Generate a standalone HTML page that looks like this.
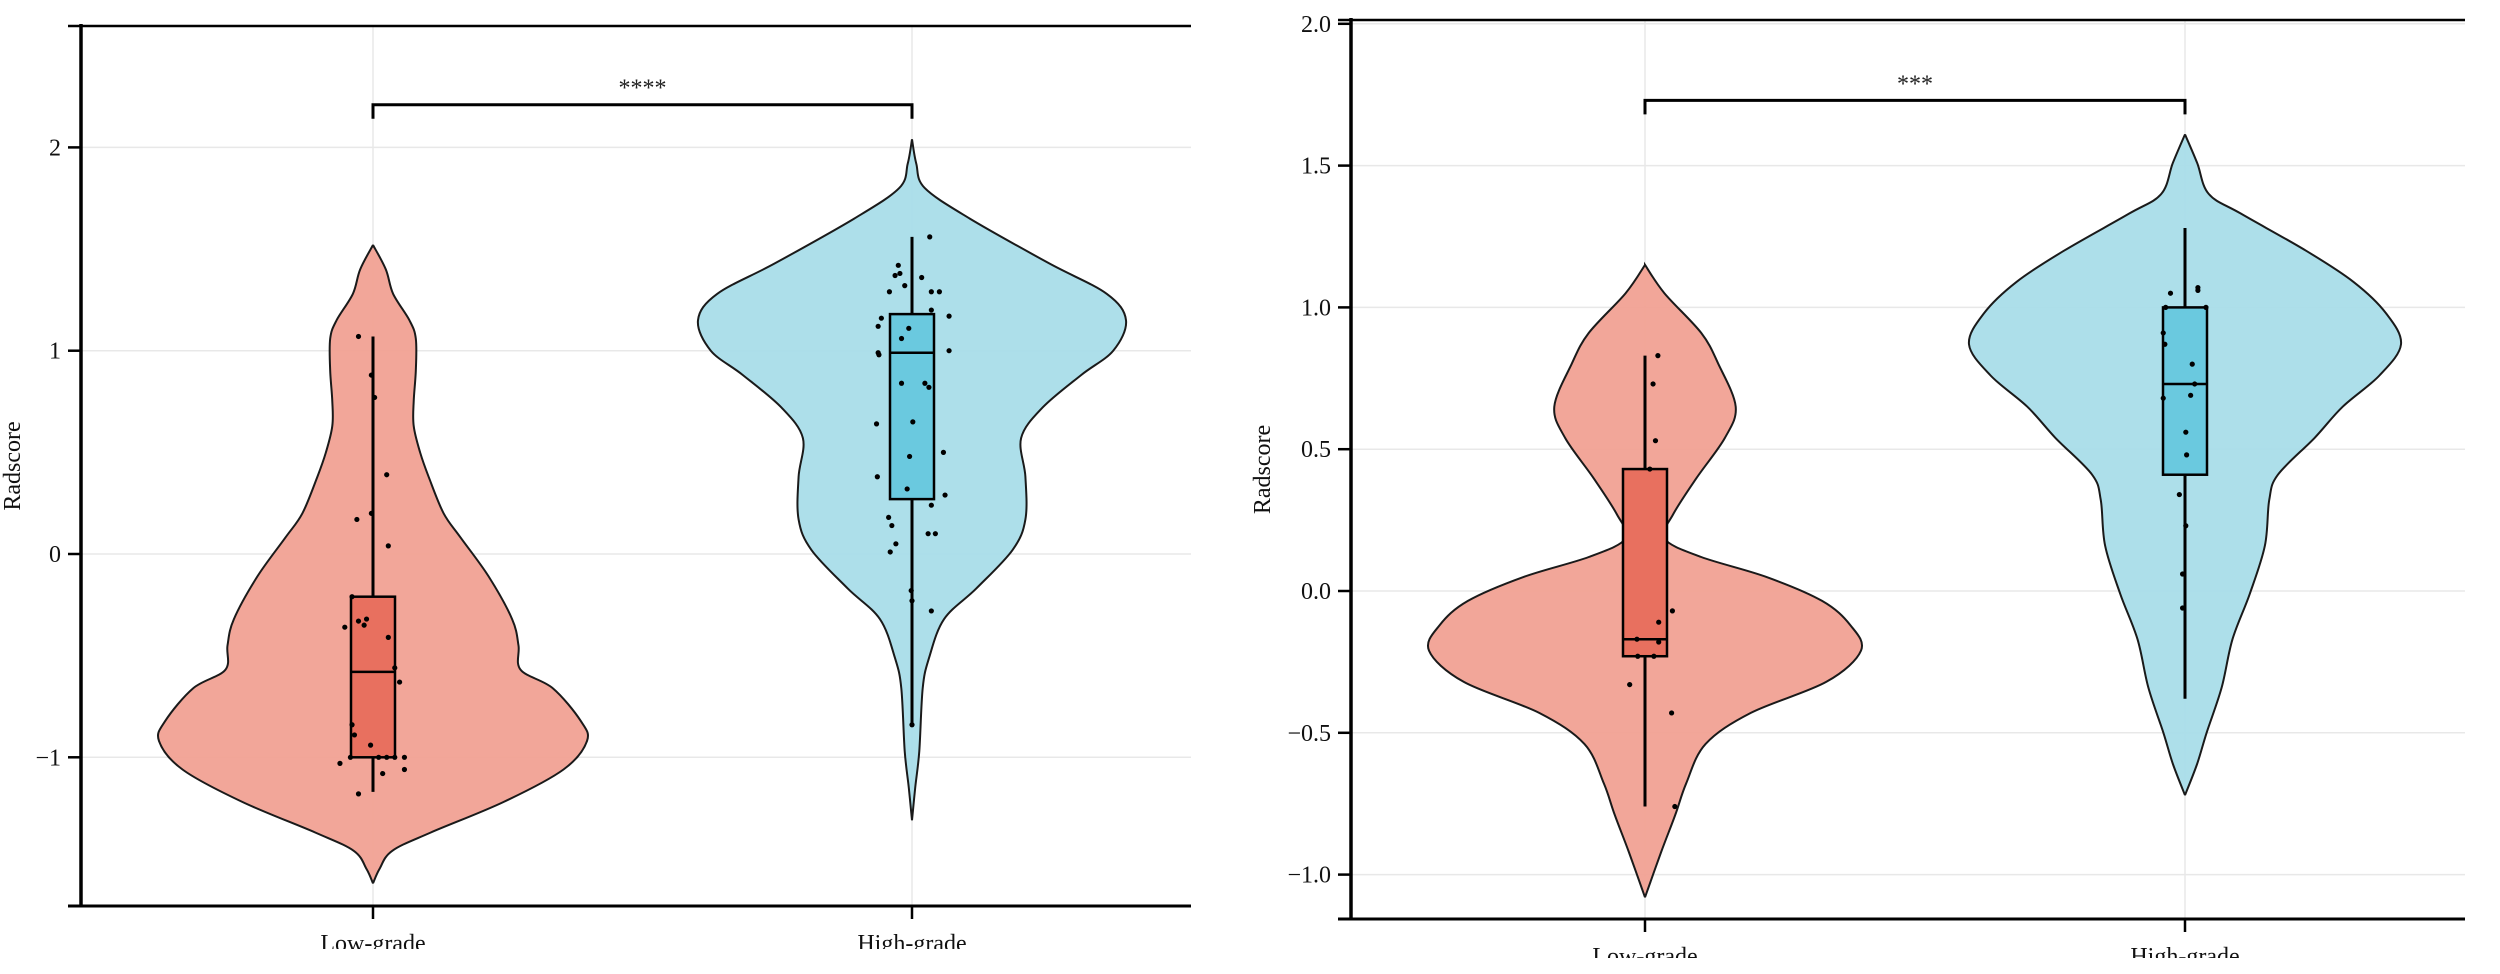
<!DOCTYPE html>
<html><head><meta charset="utf-8"><style>
html,body{margin:0;padding:0;background:#fff;}
svg{display:block;font-family:"Liberation Serif",serif;}
</style></head><body>
<svg id="chart" width="2500" height="974" viewBox="0 0 2500 974" xmlns="http://www.w3.org/2000/svg"></svg>
<script>
// ---------- Panel A data ----------
const catsA = ["Low-grade","High-grade"];
const ticksA = [2,1,0,-1];
const tickLabelsA = ["2","1","0","\u22121"];
const lowDensVA = [1.52,1.40,1.28,1.15,1.06,0.9,0.75,0.63,0.5,0.38,0.2,0.08,-0.11,-0.32,-0.45,-0.57,-0.66,-0.82,-0.92,-1.06,-1.22,-1.37,-1.46,-1.55,-1.62];
const lowDensDA = [0,0.06,0.094,0.17,0.2,0.2,0.19,0.19,0.22,0.26,0.33,0.41,0.54,0.65,0.68,0.69,0.84,0.97,1.0,0.89,0.61,0.27,0.09,0.03,0];
const highDensVA = [2.04,1.92,1.80,1.65,1.43,1.28,1.15,1.0,0.88,0.72,0.57,0.38,0.17,0.02,-0.17,-0.32,-0.51,-0.66,-0.97,-1.15,-1.31];
const highDensDA = [0,0.02,0.06,0.27,0.64,0.91,1.0,0.94,0.79,0.61,0.51,0.53,0.53,0.47,0.30,0.15,0.08,0.05,0.034,0.015,0];
const lowBoxA = [-1.17,-1.0,-0.58,-0.21,1.07];   // min, q1, median, q3, max
const highBoxA = [-0.84,0.27,0.99,1.18,1.56];
const lowPtsA = [1.07,0.88,0.77,0.39,0.2,0.17,0.04,-0.21,-0.36,-0.33,-0.32,-0.35,-0.41,-0.56,-0.63,-0.84,-0.89,-0.94,-1.0,-1.0,-1.0,-1.0,-1.0,-1.03,-1.06,-1.08,-1.18];
const lowJitA = [-18,-2,2,17,-2,-20,19,-26,-35,-18,-8,-11,19,27,33,-26,-23,-3,-28,7,17,27,39,-41,39,12,-18];
const highPtsA = [1.56,1.42,1.37,1.38,1.36,1.32,1.29,1.29,1.29,1.2,1.17,1.16,1.12,1.11,1.06,0.99,0.98,1.0,0.84,0.84,0.82,0.64,0.65,0.5,0.48,0.38,0.32,0.29,0.24,0.18,0.14,0.1,0.1,0.05,0.01,-0.18,-0.23,-0.28,-0.84];
const highJitA = [22,-17,-21,-15,12,-9,-28,24,34,24,46,-38,-42,-4,-13,-42,-41,46,-13,16,21,-44,1,39,-3,-43,-6,41,24,-29,-25,20,29,-20,-27,-1,0,24,0];
const sigA = [2.21, "****"];

// ---------- Panel B data ----------
const catsB = ["Low-grade","High-grade"];
const ticksB = [2.0,1.5,1.0,0.5,0.0,-0.5,-1.0];
const tickLabelsB = ["2.0","1.5","1.0","0.5","0.0","\u22120.5","\u22121.0"];
const lowDensVB = [1.15,1.05,0.91,0.80,0.65,0.54,0.4,0.27,0.185,0.12,0.05,-0.035,-0.12,-0.21,-0.32,-0.43,-0.54,-0.68,-0.79,-0.92,-1.08];
const lowDensDB = [0,0.09,0.26,0.34,0.42,0.37,0.24,0.13,0.09,0.26,0.56,0.82,0.95,1.0,0.84,0.49,0.28,0.19,0.14,0.075,0];
const highDensVB = [1.61,1.51,1.40,1.33,1.20,1.09,0.98,0.87,0.76,0.65,0.54,0.41,0.32,0.16,-0.01,-0.17,-0.34,-0.50,-0.61,-0.72];
const highDensDB = [0,0.056,0.11,0.26,0.56,0.78,0.93,1.0,0.9,0.73,0.6,0.43,0.39,0.37,0.3,0.22,0.17,0.1,0.056,0];
const lowBoxB = [-0.76,-0.23,-0.17,0.43,0.83];
const highBoxB = [-0.38,0.41,0.73,1.0,1.28];
const lowPtsB = [0.83,0.73,0.53,0.43,-0.07,-0.11,-0.17,-0.18,-0.23,-0.23,-0.33,-0.43,-0.76];
const lowJitB = [16,10,13,6,34,17,-10,17,-9,11,-19,33,37];
const highPtsB = [1.07,1.05,1.06,1.0,1.0,0.91,0.87,0.8,0.73,0.69,0.68,0.56,0.48,0.34,0.23,0.06,-0.06];
const highJitB = [16,-18,16,-24,26,-27,-25,9,12,7,-27,1,2,-7,1,-3,-3];
const sigB = [1.73, "***"];

const NS = "http://www.w3.org/2000/svg";
const svg = document.getElementById("chart");
function mk(tag, attrs, parent){
  const e = document.createElementNS(NS, tag);
  for (const k in attrs) e.setAttribute(k, attrs[k]);
  (parent||svg).appendChild(e);
  return e;
}
function smoothPath(pts){
  let d = "M"+pts[0][0]+","+pts[0][1];
  for (let i=0;i<pts.length-1;i++){
    const p0=pts[Math.max(0,i-1)], p1=pts[i], p2=pts[i+1], p3=pts[Math.min(pts.length-1,i+2)];
    const c1=[p1[0]+(p2[0]-p0[0])/6, p1[1]+(p2[1]-p0[1])/6];
    const c2=[p2[0]-(p3[0]-p1[0])/6, p2[1]-(p3[1]-p1[1])/6];
    d += " C"+c1[0].toFixed(1)+","+c1[1].toFixed(1)+" "+c2[0].toFixed(1)+","+c2[1].toFixed(1)+" "+p2[0].toFixed(1)+","+p2[1].toFixed(1);
  }
  return d;
}

function panel(o){
  const g = mk("g",{});
  
  
  const y = v => o.y0 - (v - o.vAtY0) * o.ppu;
  const x = i => o.cx[i];
  o.ticks.forEach(t=>{
    const l = mk("line",{x1:o.axX,x2:o.xEnd,y1:y(t),y2:y(t),stroke:"#e8e8e8","stroke-width":1.5},g);
    
    
  });
  o.cats.forEach((c,i)=>{
    const l = mk("line",{x1:x(i),x2:x(i),y1:o.top,y2:o.bottom,stroke:"#e8e8e8","stroke-width":1.5},g);
    
    
  });
  const groups = [
    {dv:o.lowDV, dd:o.lowDD, box:o.lowBox, pts:o.lowPts, jit:o.lowJit, fill:"#f1a194", boxFill:"#e8705f", nm:"low-grade"},
    {dv:o.highDV, dd:o.highDD, box:o.highBox, pts:o.highPts, jit:o.highJit, fill:"#a9dde9", boxFill:"#6ac9df", nm:"high-grade"}
  ];
  groups.forEach((G,i)=>{
    const cx = x(i);
    const right = G.dv.map((v,k)=>[cx + G.dd[k]*o.maxW, y(v)]);
    const left = G.dv.map((v,k)=>[cx - G.dd[k]*o.maxW, y(v)]).reverse();
    const p = mk("path",{d:smoothPath(right)+" "+smoothPath(left).replace("M","L")+" Z",fill:G.fill,stroke:"#1a1a1a","stroke-width":2,"fill-opacity":0.95},g);
    
    
    const w = mk("line",{x1:cx,x2:cx,y1:y(G.box[0]),y2:y(G.box[4]),stroke:"#000","stroke-width":3},g);
    
    
    const b = mk("rect",{x:cx-o.boxW,y:y(G.box[3]),width:2*o.boxW,height:y(G.box[1])-y(G.box[3]),fill:G.boxFill,stroke:"#000","stroke-width":2.5},g);
    
    
    const m = mk("line",{x1:cx-o.boxW,x2:cx+o.boxW,y1:y(G.box[2]),y2:y(G.box[2]),stroke:"#000","stroke-width":2.5},g);
    
    
    G.pts.forEach((v,k)=>{
      const c = mk("circle",{cx:cx+G.jit[k]*0.806,cy:y(v),r:2.6,fill:"#000"},g);
      
      
    });
  });
  const sy = y(o.sig[0]);
  const s = mk("path",{d:`M${x(0)},${sy+14} L${x(0)},${sy} L${x(1)},${sy} L${x(1)},${sy+14}`,fill:"none",stroke:"#000","stroke-width":3},g);
  
  
  const st = mk("text",{x:(x(0)+x(1))/2,y:sy-9,"text-anchor":"middle","font-size":24,fill:"#222"},g);
  st.textContent = o.sig[1];
  
  
  const ax = mk("line",{x1:o.axX,x2:o.axX,y1:o.top-2,y2:o.bottom,stroke:"#000","stroke-width":3.5},g);
  
  
  const tl = mk("line",{x1:o.axX-13,x2:o.xEnd,y1:o.top,y2:o.top,stroke:"#000","stroke-width":2.5},g);
  
  
  const bl = mk("line",{x1:o.axX-13,x2:o.xEnd,y1:o.bottom,y2:o.bottom,stroke:"#000","stroke-width":3},g);
  
  
  o.ticks.forEach((t,k)=>{
    const tk = mk("line",{x1:o.axX-13,x2:o.axX,y1:y(t),y2:y(t),stroke:"#000","stroke-width":2.5},g);
    
    
    const lb = mk("text",{x:o.axX-20,y:y(t)+8,"text-anchor":"end","font-size":24,fill:"#111"},g);
    lb.textContent = o.tickLabels[k];
    
    
  });
  o.cats.forEach((c,i)=>{
    const tk = mk("line",{x1:x(i),x2:x(i),y1:o.bottom,y2:o.bottom+13,stroke:"#000","stroke-width":2.5},g);
    
    
    const lb = mk("text",{x:x(i),y:o.bottom+45,"text-anchor":"middle","font-size":24,fill:"#111"},g);
    lb.textContent = c;
    
    
  });
  const cr = mk("rect",{x:o.axX-60,y:o.clipY,width:o.xEnd-o.axX+80,height:974-o.clipY,fill:"#fff"},g);
  
  
  const at = mk("text",{x:0,y:0,"text-anchor":"middle","font-size":24,fill:"#111",transform:`translate(${o.titleX},${(o.top+o.bottom)/2}) rotate(-90)`},g);
  at.textContent = "Radscore";
  
  
}

panel({name:"panel-a", cats:catsA, ticks:ticksA, tickLabels:tickLabelsA,
  lowDV:lowDensVA, lowDD:lowDensDA, highDV:highDensVA, highDD:highDensDA,
  lowBox:lowBoxA, highBox:highBoxA, lowPts:lowPtsA, lowJit:lowJitA, highPts:highPtsA, highJit:highJitA, sig:sigA,
  axX:81, xEnd:1191, top:26, bottom:906, y0:554, vAtY0:0, ppu:203.3, cx:[373,912], maxW:214, boxW:22, clipY:949, titleX:20});

panel({name:"panel-b", cats:catsB, ticks:ticksB, tickLabels:tickLabelsB,
  lowDV:lowDensVB, lowDD:lowDensDB, highDV:highDensVB, highDD:highDensDB,
  lowBox:lowBoxB, highBox:highBoxB, lowPts:lowPtsB, lowJit:lowJitB, highPts:highPtsB, highJit:highJitB, sig:sigB,
  axX:1351, xEnd:2465, top:20, bottom:919, y0:591, vAtY0:0, ppu:283.6, cx:[1645,2185], maxW:216, boxW:22, clipY:958, titleX:1270});
</script>
</body></html>
